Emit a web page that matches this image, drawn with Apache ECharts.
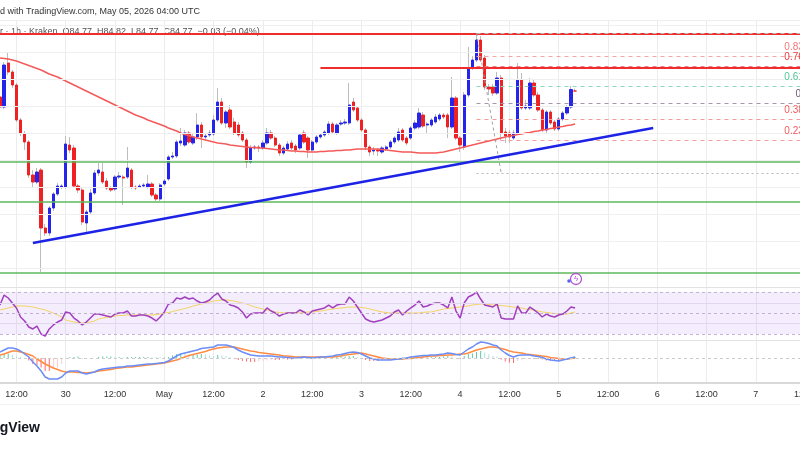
<!DOCTYPE html>
<html>
<head>
<meta charset="utf-8">
<title>1h chart - Kraken</title>
<script src="https://cdn.jsdelivr.net/npm/echarts@6/dist/echarts.min.js"></script>
<style>
  html, body { margin: 0; padding: 0; background: #fff; }
  #chart { width: 800px; height: 450px; }
</style>
</head>
<body>
<div id="chart"></div>
<script>
// hourly slots, slot 0 = Apr 29 08:00 UTC
const startTime = Date.UTC(2026, 3, 29, 8);
const slotCount = 199;

// candles: [open, close, low, high]
const candles = [
  [84.65,84.45,84.39,84.71],[84.45,85.29,84.41,85.35],[85.33,85.15,85.09,85.55],[85.15,84.89,84.83,85.19],
  [84.89,84.19,84.15,84.93],[84.19,83.93,83.87,84.23],[83.91,83.75,83.59,83.97],[83.75,83.09,83.03,83.79],
  [83.09,82.95,82.83,83.19],[82.95,83.15,82.91,83.23],[83.19,82.03,81.15,83.23],[82.03,81.93,81.87,82.11],
  [81.93,82.43,81.87,82.47],[82.43,82.71,82.37,82.75],[82.71,82.87,82.67,82.93],[82.85,82.87,82.81,82.91],
  [82.85,83.71,82.81,83.87],[83.69,83.59,83.53,83.85],[83.63,82.87,82.83,83.69],[82.87,82.79,82.73,82.91],
  [82.79,82.15,82.09,82.85],[82.13,82.35,81.95,82.39],[82.35,82.73,82.31,82.81],[82.73,83.13,82.69,83.19],
  [83.13,83.19,83.07,83.33],[83.15,82.95,82.91,83.33],[82.97,82.83,82.79,83.03],[82.83,82.79,82.75,82.87],
  [82.81,83.05,82.77,83.09],[83.05,83.07,83.01,83.15],[83.05,83.03,82.49,83.09],[83.05,83.23,83.01,83.65],
  [83.19,82.85,82.81,83.23],[82.85,82.83,82.79,82.89],[82.85,82.87,82.83,82.91],[82.87,82.89,82.83,82.93],
  [82.85,82.91,82.81,83.09],[82.91,82.69,82.65,82.95],[82.69,82.61,82.57,82.73],[82.61,82.89,82.57,82.93],
  [82.91,82.97,82.87,83.01],[83.01,83.45,82.97,83.49],[83.45,83.47,83.41,83.55],[83.47,83.75,83.43,83.79],
  [83.73,83.77,83.67,84.03],[83.69,83.93,83.65,83.99],[83.93,83.75,83.71,83.97],[83.73,83.85,83.69,83.91],
  [83.85,84.09,83.79,84.33],[84.09,83.85,83.63,84.15],[83.85,83.87,83.79,83.91],[83.89,83.93,83.85,83.99],
  [83.91,84.19,83.87,84.29],[84.19,84.55,84.15,84.83],[84.55,84.13,84.09,84.63],[84.13,84.35,84.03,84.39],
  [84.39,84.05,84.01,84.49],[84.15,83.93,83.89,84.23],[84.09,83.89,83.85,84.15],[83.93,83.79,83.75,83.97],
  [83.79,83.35,83.23,83.83],[83.35,83.63,83.31,83.69],[83.63,83.65,83.59,83.69],[83.65,83.63,83.55,83.69],
  [83.63,83.73,83.59,83.79],[83.73,83.93,83.69,84.03],[83.93,83.83,83.79,83.99],[83.83,83.69,83.65,83.87],
  [83.69,83.53,83.47,83.73],[83.53,83.63,83.49,83.67],[83.61,83.71,83.57,83.77],[83.73,83.63,83.59,83.79],
  [83.67,83.59,83.53,83.71],[83.63,83.89,83.59,83.93],[83.93,83.75,83.71,83.99],[83.83,83.59,83.43,83.87],
  [83.59,83.75,83.55,83.79],[83.75,83.85,83.71,83.89],[83.85,83.89,83.81,83.93],[83.89,83.95,83.85,83.99],
  [83.93,84.11,83.89,84.17],[84.11,83.95,83.91,84.15],[83.93,84.09,83.89,84.13],[84.11,84.13,84.07,84.19],
  [84.13,84.15,84.09,84.21],[84.13,84.49,84.09,84.93],[84.55,84.39,84.35,84.63],[84.43,84.19,84.15,84.47],
  [84.19,83.99,83.95,84.23],[83.99,83.65,83.59,84.03],[83.65,83.55,83.47,83.69],[83.57,83.59,83.49,83.65],
  [83.59,83.57,83.47,83.63],[83.55,83.63,83.51,83.67],[83.61,83.65,83.57,83.69],[83.65,83.75,83.61,83.79],
  [83.75,83.83,83.71,83.87],[83.79,83.95,83.75,84.03],[83.99,83.79,83.75,84.03],[83.83,83.73,83.69,83.87],
  [83.83,84.03,83.79,84.07],[84.03,84.13,83.99,84.19],[84.05,84.33,84.01,84.43],[84.29,84.07,84.03,84.35],
  [84.09,84.11,83.93,84.15],[84.09,84.19,84.05,84.23],[84.15,84.25,84.11,84.31],[84.21,84.29,84.17,84.33],
  [84.29,84.25,84.21,84.33],[84.29,84.05,83.83,84.33],[84.05,84.63,84.01,85.05],[84.63,83.83,83.79,84.67],
  [83.83,83.69,83.55,83.87],[83.65,84.69,83.59,84.75],[84.69,85.23,84.65,85.65],[85.23,85.39,85.19,85.47],
  [85.39,85.79,85.35,85.89],[85.79,85.39,85.35,85.87],[85.43,84.85,84.79,85.49],[84.85,84.81,84.69,84.91],
  [84.85,84.73,84.67,84.91],[84.73,85.03,84.69,85.15],[85.03,83.93,83.79,85.09],[83.95,83.87,83.73,84.03],
  [83.93,83.85,83.73,83.99],[83.83,83.93,83.79,83.99],[83.93,84.99,83.89,85.33],[84.99,84.43,84.39,85.13],
  [84.43,84.47,84.39,84.59],[84.43,84.93,84.39,85.03],[84.93,84.69,84.65,84.99],[84.69,84.39,84.35,84.75],
  [84.39,83.99,83.95,84.43],[83.99,84.35,83.93,84.39],[84.35,84.13,84.09,84.39],[84.15,84.01,83.97,84.19],
  [84.01,84.21,83.97,84.25],[84.21,84.33,84.17,84.37],[84.33,84.45,84.29,84.49],[84.45,84.80,84.41,84.87],
  [84.77,84.77,84.77,84.82]
];

// moving average on price
const ma = [
  85.43,85.42,85.41,85.39,85.37,85.34,85.31,85.28,85.25,85.22,
  85.19,85.15,85.11,85.08,85.05,85.01,84.97,84.93,84.89,84.85,
  84.81,84.77,84.73,84.69,84.65,84.61,84.57,84.53,84.49,84.45,
  84.41,84.37,84.33,84.29,84.26,84.23,84.19,84.16,84.13,84.10,
  84.07,84.03,84.00,83.97,83.93,83.90,83.88,83.85,83.83,83.81,
  83.79,83.77,83.75,83.73,83.72,83.71,83.69,83.68,83.67,83.66,
  83.65,83.64,83.64,83.63,83.63,83.62,83.61,83.60,83.59,83.59,
  83.58,83.57,83.57,83.56,83.56,83.55,83.55,83.55,83.56,83.56,
  83.57,83.57,83.58,83.58,83.59,83.59,83.60,83.61,83.61,83.61,
  83.61,83.61,83.61,83.60,83.59,83.58,83.57,83.56,83.55,83.55,
  83.55,83.54,83.53,83.53,83.53,83.53,83.53,83.54,83.55,83.57,
  83.59,83.61,83.63,83.65,83.67,83.69,83.71,83.73,83.75,83.77,
  83.79,83.81,83.83,83.85,83.87,83.88,83.90,83.91,83.93,83.94,
  83.96,83.97,83.99,84.00,84.02,84.03,84.05,84.06,84.08,84.09,
  84.11
];

const rsi = [
  57.6,67.1,64.3,59.5,54.8,46.2,42.4,36.7,34.8,37.6,
  30.0,28.1,34.8,38.6,41.4,43.3,51.0,50.0,45.2,42.4,
  38.6,41.4,45.2,49.0,49.0,48.1,47.1,46.2,49.0,50.0,
  50.0,51.9,47.1,47.1,48.1,48.1,47.1,45.2,42.4,46.2,
  51.0,58.6,59.5,64.3,63.3,65.2,63.3,64.3,61.4,59.5,
  60.5,62.4,66.2,69.0,63.3,61.4,57.6,56.7,54.8,51.0,
  45.2,49.0,50.0,50.0,50.0,54.8,51.9,50.0,47.1,49.0,
  50.0,50.0,50.0,52.9,51.0,48.1,51.9,52.9,53.8,54.8,
  57.6,54.8,57.6,58.6,58.6,65.2,61.4,55.7,50.0,44.3,
  42.4,41.4,42.4,43.3,45.2,47.1,51.0,52.9,48.1,51.9,
  54.8,57.6,61.4,55.7,56.7,58.6,59.5,59.5,57.6,54.8,
  65.2,51.9,45.2,59.5,65.2,67.1,70.0,63.3,57.6,56.7,
  55.7,58.6,45.2,44.3,44.3,44.3,56.7,50.0,50.0,55.7,
  52.9,50.0,46.2,49.0,47.1,46.2,48.1,49.0,51.9,55.7,
  54.8
];

const rsiMa = [
  52.9,53.8,54.8,55.7,56.7,56.7,56.7,56.2,55.7,54.8,
  53.8,52.9,51.4,50.0,48.1,46.2,43.3,42.4,41.4,41.0,
  40.5,41.0,41.4,42.4,44.3,45.2,45.7,46.2,47.1,47.6,
  47.6,48.1,48.1,48.1,48.1,48.1,48.1,48.1,48.6,49.0,
  50.0,50.5,51.4,52.4,53.3,54.3,55.2,56.7,57.6,58.6,
  59.5,60.5,61.4,61.9,62.4,62.4,61.9,61.4,60.5,59.5,
  58.6,57.1,55.7,54.8,53.8,52.9,51.9,51.0,50.5,50.0,
  50.0,50.0,50.0,50.0,50.5,51.0,51.0,51.4,51.9,52.4,
  53.3,53.8,54.3,54.8,55.2,55.7,55.7,55.7,55.2,54.8,
  53.8,52.9,51.9,51.0,50.5,50.0,50.0,50.0,50.0,50.0,
  50.0,50.0,50.0,50.5,51.0,51.0,51.9,52.9,53.8,54.3,
  54.8,55.2,55.7,56.2,56.7,57.6,58.1,58.6,58.6,58.1,
  57.6,57.6,57.1,56.7,56.2,55.7,55.2,54.8,53.8,53.3,
  52.9,51.9,51.0,50.5,50.0,49.5,49.0,49.0,49.0,50.0,
  51.0
];

const macd = [
  0.06,0.08,0.10,0.10,0.09,0.07,0.04,0.01,-0.04,-0.08,
  -0.13,-0.19,-0.21,-0.21,-0.21,-0.19,-0.15,-0.13,-0.13,-0.13,
  -0.15,-0.16,-0.15,-0.14,-0.12,-0.11,-0.105,-0.10,-0.095,-0.09,
  -0.09,-0.08,-0.08,-0.075,-0.07,-0.065,-0.06,-0.06,-0.055,-0.05,
  -0.045,-0.03,-0.005,0.02,0.04,0.05,0.06,0.07,0.08,0.095,
  0.10,0.105,0.11,0.13,0.13,0.13,0.12,0.105,0.08,0.06,
  0.045,0.03,0.025,0.02,0.02,0.02,0.02,0.015,0.01,0.01,
  0.005,0,0,0.005,0.01,0.005,0,0.005,0.01,0.01,
  0.015,0.02,0.03,0.035,0.045,0.055,0.06,0.055,0.04,0.02,
  0,-0.01,-0.02,-0.02,-0.02,-0.02,-0.015,-0.01,-0.005,0,
  0.01,0.015,0.02,0.025,0.025,0.03,0.03,0.035,0.04,0.05,
  0.045,0.035,0.03,0.06,0.09,0.11,0.14,0.16,0.155,0.145,
  0.13,0.12,0.08,0.05,0.025,0.01,0.025,0.03,0.03,0.03,
  0.02,0.015,0.005,-0.01,-0.02,-0.025,-0.03,-0.02,-0.01,0,
  0.01
];

const signal = [
  0.03,0.04,0.055,0.07,0.07,0.06,0.05,0.035,0.02,-0.01,
  -0.035,-0.06,-0.08,-0.10,-0.115,-0.13,-0.14,-0.14,-0.14,-0.145,
  -0.145,-0.15,-0.145,-0.14,-0.13,-0.125,-0.12,-0.115,-0.105,-0.10,
  -0.095,-0.09,-0.09,-0.085,-0.08,-0.075,-0.07,-0.065,-0.06,-0.055,
  -0.05,-0.04,-0.03,-0.02,-0.005,0.01,0.025,0.035,0.045,0.055,
  0.065,0.08,0.09,0.10,0.105,0.11,0.11,0.11,0.10,0.09,
  0.08,0.07,0.065,0.055,0.05,0.045,0.04,0.035,0.03,0.02,
  0.02,0.015,0.01,0.01,0.01,0.01,0.01,0.01,0.01,0.01,
  0.01,0.01,0.015,0.02,0.03,0.035,0.04,0.045,0.05,0.04,
  0.03,0.02,0.01,0,-0.005,-0.01,-0.01,-0.01,-0.01,-0.005,
  -0.005,0,0.005,0.01,0.015,0.02,0.02,0.025,0.025,0.03,
  0.03,0.035,0.04,0.04,0.05,0.065,0.08,0.09,0.10,0.11,
  0.11,0.105,0.095,0.085,0.07,0.06,0.055,0.05,0.04,0.035,
  0.03,0.025,0.02,0.015,0.005,0,-0.005,-0.01,-0.01,-0.005,
  0
];

// horizontal price grid and drawings
const priceTicks = [86.09, 85.55, 85.01, 84.47, 83.93, 83.39, 82.85, 82.31, 81.77, 81.23];
const rsiTicks = [59.5, 40.5];
const rsiBand = [70, 50, 30];
const redLevels = [85.91, 85.23];
const redFrom = [0, 78];
const greenLevels = [83.35, 82.55, 81.13];
const trendLine = [[8, 81.73], [159, 84.03]];
const fibLow = 83.13;
const fibHigh = 85.93;
const fibSpan = [116, 122];
const fibLevels = [0, 0.236, 0.382, 0.5, 0.618, 0.764, 0.836, 1];
const fibNames = ['0', '0.236', '0.382', '0.5', '0.618', '0.764', '0.836', '1'];
const fibColors = ['#b8b8b8', '#f59a9a', '#f59a9a', '#a596ab', '#8ed8c2', '#f27a7a', '#f5a5a5', '#b8b8b8'];
const fibTextColors = ['#999', '#ee5c5c', '#ee5c5c', '#6b5a70', '#4fc79c', '#e93a3a', '#f07878', '#999'];

const categories = [];
for (let i = 0; i < slotCount; i++) {
  categories.push(new Date(startTime + i * 3600000).toISOString().slice(0, 13));
}
const hourOf = (s) => +s.slice(11, 13);
const dayOf = (s) => +s.slice(8, 10);
const isGridSlot = (idx) => hourOf(categories[idx]) % 12 === 0;
const timeLabel = (s) => hourOf(s) === 12 ? '12:00' : (dayOf(s) === 1 ? 'May' : String(dayOf(s)));

const bodies = candles.map(([o, c]) => [o, c, Math.min(o, c), Math.max(o, c)]);
const hist = macd.map((v, i) => +(v - signal[i]).toFixed(3));

const STEP = 4.108;
const gridWidth = (slotCount - 1) * STEP;
const font = 'Liberation Sans, Arial, sans-serif';
const lastSlot = slotCount - 1;

const chart = echarts.init(document.getElementById('chart'));

const xAxisBase = (gridIndex, showLabels) => ({
  type: 'category',
  gridIndex: gridIndex,
  data: categories,
  boundaryGap: false,
  axisLine: showLabels ? { show: true, onZero: false, lineStyle: { color: '#d9d9d9', width: 2 } } : { show: false, onZero: false },
  axisTick: { show: false },
  axisLabel: {
    show: showLabels,
    interval: (idx) => isGridSlot(idx),
    formatter: timeLabel,
    color: '#333',
    fontSize: 9,
    margin: 7
  },
  splitLine: {
    show: true,
    interval: (idx) => isGridSlot(idx),
    lineStyle: { color: '#ececec', width: 1 }
  }
});

const plainLine = (color, width, type) => ({ color: color, width: width, type: type || 'solid' });

const drawingLines = [];
redLevels.forEach((v, k) => {
  drawingLines.push([{ coord: [redFrom[k], v], lineStyle: plainLine('#ef2d2d', 2) }, { coord: [lastSlot, v] }]);
});
greenLevels.forEach((v) => {
  drawingLines.push([{ coord: [0, v], lineStyle: plainLine('#5cb85c', 1.5) }, { coord: [lastSlot, v] }]);
});
fibLevels.forEach((lv, k) => {
  const p = +(fibLow + lv * (fibHigh - fibLow)).toFixed(3);
  drawingLines.push([
    {
      coord: [fibSpan[0], p],
      lineStyle: plainLine(fibColors[k], 1, k === 0 ? [2, 3] : [4, 4]),
      label: {
        show: true, position: 'insideEndTop', formatter: fibNames[k],
        color: fibTextColors[k], fontSize: 10, fontFamily: font, distance: 4
      }
    },
    { coord: [lastSlot, p] }
  ]);
});
drawingLines.push([{ coord: [fibSpan[0], fibHigh], lineStyle: plainLine('#a0a0a0', 1, [3, 3]) }, { coord: [fibSpan[1], fibLow] }]);
drawingLines.push([{ coord: trendLine[0], lineStyle: plainLine('#1c23e6', 2.5) }, { coord: trendLine[1] }]);

chart.setOption({
  animation: false,
  textStyle: { fontFamily: font },
  grid: [
    { left: 0, top: 21, width: gridWidth, height: 266, outerBoundsMode: 'none' },
    { left: 0, top: 288, width: gridWidth, height: 52, outerBoundsMode: 'none' },
    { left: 0, top: 340, width: gridWidth, height: 43, outerBoundsMode: 'none' }
  ],
  xAxis: [xAxisBase(0, false), xAxisBase(1, false), xAxisBase(2, true)],
  yAxis: [
    { gridIndex: 0, type: 'value', min: 80.85, max: 86.17, show: false, splitLine: { show: false } },
    { gridIndex: 1, type: 'value', min: 24.29, max: 73.81, show: false, splitLine: { show: false } },
    { gridIndex: 2, type: 'value', min: -0.25, max: 0.18, show: false, splitLine: { show: false } }
  ],
  graphic: [
    { type: 'text', z: 0, style: { x: 0, y: 12, text: 'd with TradingView.com, May 05, 2026 04:00 UTC', fontSize: 9, fontFamily: font, fill: '#333', verticalAlign: 'middle' } },
    { type: 'text', z: 0, style: { x: 0, y: 32, text: 'r · 1h · Kraken  O84.77  H84.82  L84.77  C84.77  −0.03 (−0.04%)', fontSize: 9, fontFamily: font, fill: '#555', verticalAlign: 'middle' } },
    { type: 'text', z: 0, style: { x: 40, y: 428, text: 'TradingView', fontSize: 14, fontWeight: 'bold', fontFamily: font, fill: '#131722', align: 'right', verticalAlign: 'middle' } },
    { type: 'line', z: 0, shape: { x1: 0, y1: 20.5, x2: 800, y2: 20.5 }, style: { stroke: '#eeeeee', lineWidth: 1 } },
    { type: 'line', z: 0, shape: { x1: 0, y1: 287.5, x2: 800, y2: 287.5 }, style: { stroke: '#e2e2e2', lineWidth: 1 } },
    { type: 'line', z: 0, shape: { x1: 0, y1: 340.5, x2: 800, y2: 340.5 }, style: { stroke: '#e2e2e2', lineWidth: 1 } },
    { type: 'line', z: 0, shape: { x1: 0, y1: 404.5, x2: 800, y2: 404.5 }, style: { stroke: '#f2f2f2', lineWidth: 1 } },
    { type: 'circle', z: 10, shape: { cx: 576, cy: 279, r: 5.5 }, style: { fill: 'none', stroke: '#b553d0', lineWidth: 1.3 } },
    { type: 'text', z: 10, style: { x: 576, y: 279, text: 'ϟ', fontSize: 8, fill: '#b553d0', align: 'center', verticalAlign: 'middle' } },
    { type: 'circle', z: 10, shape: { cx: 569, cy: 281, r: 1.8 }, style: { fill: '#5865f2' } }
  ],
  series: [
    {
      name: 'price grid', type: 'line', xAxisIndex: 0, yAxisIndex: 0, data: [], z: 1, silent: true,
      markLine: {
        silent: true, symbol: ['none', 'none'], label: { show: false },
        lineStyle: { color: '#efefef', width: 1, type: 'solid' },
        data: priceTicks.map((v) => ({ yAxis: v }))
      }
    },
    {
      name: 'wick', type: 'candlestick', xAxisIndex: 0, yAxisIndex: 0, data: candles, barWidth: 1, z: 2, silent: true,
      itemStyle: { color: '#bdbdbd', color0: '#bdbdbd', borderColor: '#bdbdbd', borderColor0: '#bdbdbd', borderWidth: 1 }
    },
    {
      name: 'body', type: 'candlestick', xAxisIndex: 0, yAxisIndex: 0, data: bodies, barWidth: 2.8, z: 3, silent: true,
      itemStyle: { color: '#2424ea', color0: '#ee2222', borderColor: '#2424ea', borderColor0: '#ee2222', borderWidth: 1 }
    },
    {
      name: 'MA', type: 'line', xAxisIndex: 0, yAxisIndex: 0, data: ma, symbol: 'none', z: 4, silent: true,
      lineStyle: { color: '#f55a5a', width: 1.5 }
    },
    {
      name: 'drawings', type: 'line', xAxisIndex: 0, yAxisIndex: 0, data: [], z: 5, silent: true,
      markLine: { silent: true, symbol: ['none', 'none'], label: { show: false }, data: drawingLines }
    },
    {
      name: 'RSI', type: 'line', xAxisIndex: 1, yAxisIndex: 1, data: rsi, symbol: 'none', z: 4, silent: true,
      lineStyle: { color: '#a23fbf', width: 1.5 },
      markArea: {
        silent: true,
        itemStyle: { color: 'rgba(150, 90, 235, 0.11)' },
        data: [[{ yAxis: rsiBand[0] }, { yAxis: rsiBand[2] }]]
      },
      markLine: {
        silent: true, symbol: ['none', 'none'], label: { show: false },
        data: rsiBand.map((v) => ({ yAxis: v, lineStyle: { color: '#c4b2d4', width: 1, type: [3, 3] } }))
          .concat(rsiTicks.map((v) => ({ yAxis: v, lineStyle: { color: '#e2d6ee', width: 1, type: 'solid' } })))
      }
    },
    {
      name: 'RSI MA', type: 'line', xAxisIndex: 1, yAxisIndex: 1, data: rsiMa, symbol: 'none', z: 3, silent: true,
      lineStyle: { color: '#f3d35e', width: 1 }
    },
    {
      name: 'Histogram', type: 'bar', xAxisIndex: 2, yAxisIndex: 2, data: hist, barWidth: 1, z: 2, silent: true,
      itemStyle: {
        color: (p) => {
          const prev = p.dataIndex > 0 ? hist[p.dataIndex - 1] : 0;
          if (p.value >= 0) return p.value >= prev ? '#5cc9a7' : '#b2dfdb';
          return p.value <= prev ? '#ff6b6b' : '#ffcdd2';
        }
      },
      markLine: {
        silent: true, symbol: ['none', 'none'], label: { show: false },
        lineStyle: { color: '#cccccc', width: 1, type: [3, 3] },
        data: [{ yAxis: 0 }]
      }
    },
    {
      name: 'MACD', type: 'line', xAxisIndex: 2, yAxisIndex: 2, data: macd, symbol: 'none', z: 4, silent: true,
      lineStyle: { color: '#6a8df7', width: 1.5 }
    },
    {
      name: 'Signal', type: 'line', xAxisIndex: 2, yAxisIndex: 2, data: signal, symbol: 'none', z: 3, silent: true,
      lineStyle: { color: '#ff8c42', width: 1.5 }
    }
  ]
});
</script>
</body>
</html>
